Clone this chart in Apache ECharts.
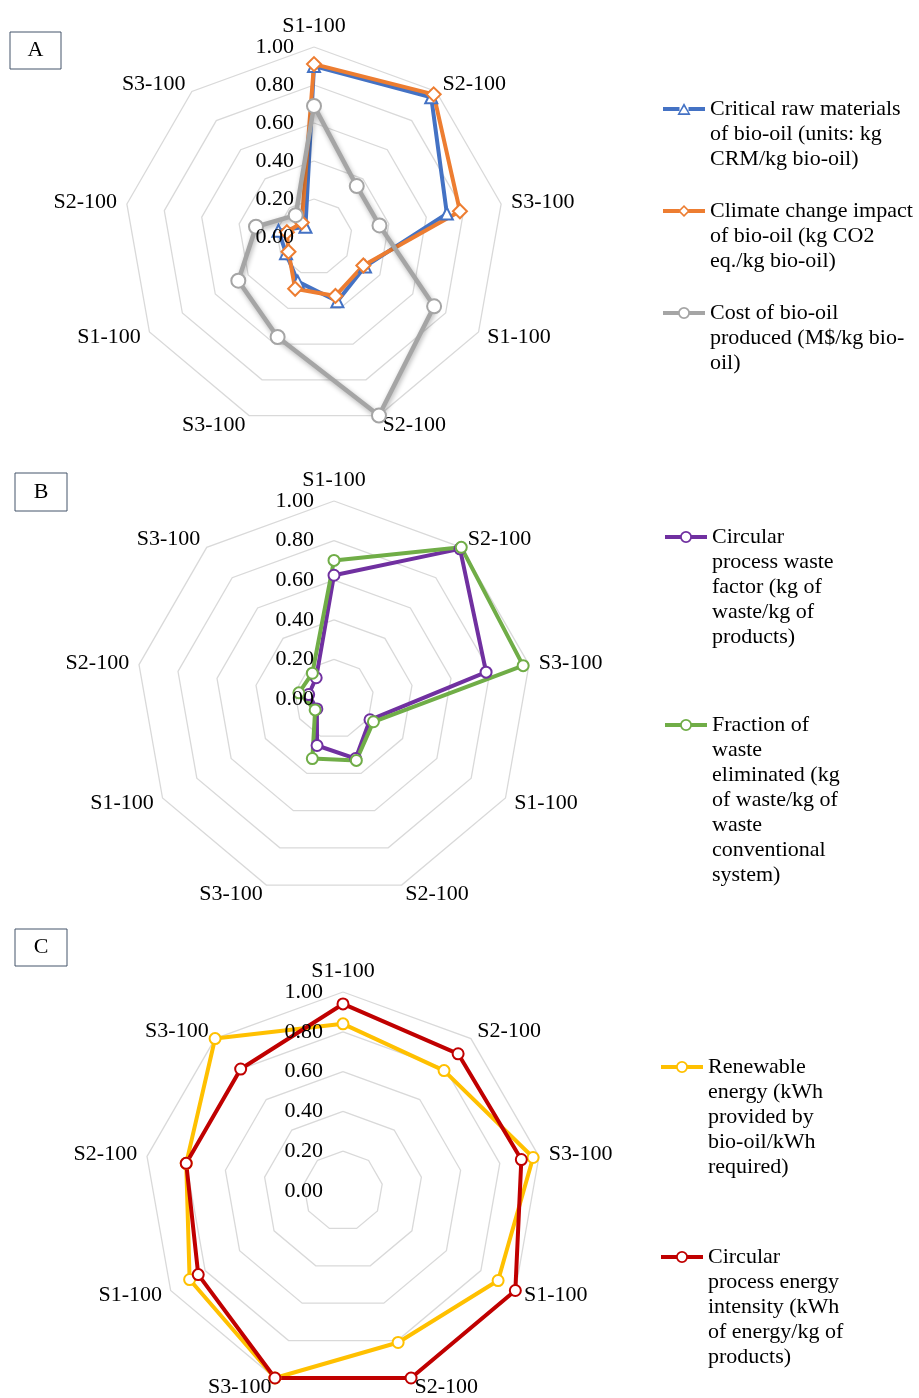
<!DOCTYPE html>
<html>
<head>
<meta charset="utf-8">
<script src="https://cdn.jsdelivr.net/npm/echarts@6/dist/echarts.min.js"></script>
<style>
  html, body { margin: 0; padding: 0; background: #ffffff; }
  #chart { width: 919px; height: 1398px; }
</style>
</head>
<body>
<div id="chart"></div>
<script>
// Spoke names, listed clockwise starting from the top spoke
const spokes = ['S1-100', 'S2-100', 'S3-100', 'S1-100', 'S2-100', 'S3-100', 'S1-100', 'S2-100', 'S3-100'];
const tickLabels = ['0.00', '0.20', '0.40', '0.60', '0.80', '1.00'];

// Panel A (normalised values, clockwise from the top spoke)
const crmBioOil      = [0.90, 0.96, 0.71, 0.31, 0.36, 0.25, 0.17, 0.19, 0.07];
const climateBioOil  = [0.91, 0.98, 0.78, 0.30, 0.33, 0.29, 0.155, 0.145, 0.10];
const costBioOil     = [0.69, 0.35, 0.35, 0.73, 1.00, 0.56, 0.46, 0.31, 0.15];

// Panel B
const wasteFactor     = [0.625, 0.99, 0.78, 0.21, 0.32, 0.25, 0.10, 0.13, 0.14];
const wasteEliminated = [0.70, 1.00, 0.97, 0.23, 0.33, 0.32, 0.11, 0.18, 0.17];

// Panel C
const renewableEnergy = [0.84, 0.79, 0.97, 0.90, 0.81, 1.00, 0.89, 0.80, 1.00];
const energyIntensity = [0.94, 0.90, 0.91, 1.00, 1.00, 1.00, 0.84, 0.80, 0.80];

// Series names and their wrapped legend text
const nameCrm = 'Critical raw materials of bio-oil (units: kg CRM/kg bio-oil)';
const nameClimate = 'Climate change impact of bio-oil (kg CO2 eq./kg bio-oil)';
const nameCost = 'Cost of bio-oil produced (M$/kg bio-oil)';
const nameWasteFactor = 'Circular process waste factor (kg of waste/kg of products)';
const nameWasteElim = 'Fraction of waste eliminated (kg of waste/kg of waste conventional system)';
const nameRenewable = 'Renewable energy (kWh provided by bio-oil/kWh required)';
const nameIntensity = 'Circular process energy intensity (kWh of energy/kg of products)';

const linesCrm = ['Critical raw materials', 'of bio-oil (units: kg', 'CRM/kg bio-oil)'];
const linesClimate = ['Climate change impact', 'of bio-oil (kg CO2', 'eq./kg bio-oil)'];
const linesCost = ['Cost of bio-oil', 'produced (M$/kg bio-', 'oil)'];
const linesWasteFactor = ['Circular', 'process waste', 'factor (kg of', 'waste/kg of', 'products)'];
const linesWasteElim = ['Fraction of', 'waste', 'eliminated (kg', 'of waste/kg of', 'waste', 'conventional', 'system)'];
const linesRenewable = ['Renewable', 'energy (kWh', 'provided by', 'bio-oil/kWh', 'required)'];
const linesIntensity = ['Circular', 'process energy', 'intensity (kWh', 'of energy/kg of', 'products)'];

const BLUE = '#4472C4', ORANGE = '#ED7D31', GREY = '#A5A5A5';
const PURPLE = '#7030A0', GREEN = '#70AD47';
const YELLOW = '#FFC000', RED = '#C00000', BROWN = '#843C0C';
const FONT = 'Liberation Serif';
const LINE_H = 25;

// ECharts lays radar spokes out counter-clockwise; reorder so the list reads clockwise
const cw = arr => [arr[0]].concat(arr.slice(1).reverse());

// Grid layer: rings and spoke names (drawn beneath the series)
function radarGrid(cx, cy, r) {
  return {
    center: [cx, cy],
    radius: r,
    startAngle: 90,
    shape: 'polygon',
    splitNumber: 5,
    nameGap: 10,
    axisName: { color: '#000', fontFamily: FONT, fontSize: 22 },
    indicator: cw(spokes).map(name => ({ name: name, min: 0, max: 1 })),
    axisLine: { show: false },
    axisTick: { show: false },
    axisLabel: { show: false },
    splitLine: { lineStyle: { color: '#d9d9d9', width: 1.3 } },
    splitArea: { show: false }
  };
}

// Label layer: value labels on the top spoke, drawn above the series
function radarLabels(cx, cy, r) {
  return {
    z: 10,
    center: [cx, cy],
    radius: r,
    startAngle: 90,
    shape: 'polygon',
    splitNumber: 5,
    axisName: { show: false },
    indicator: cw(spokes).map((name, i) => {
      const ind = { name: name, min: 0, max: 1 };
      if (i === 0) {
        ind.axisLabel = {
          show: true, margin: 20, color: '#000', fontFamily: FONT, fontSize: 22,
          formatter: (v, idx) => tickLabels[idx] !== undefined ? tickLabels[idx] : v.toFixed(2)
        };
      }
      return ind;
    }),
    axisLine: { show: false },
    axisTick: { show: false },
    axisLabel: { show: false },
    splitLine: { show: false },
    splitArea: { show: false }
  };
}

function radarSeries(radarIndex, name, values, color, symbol, size, extra) {
  const s = {
    type: 'radar',
    radarIndex: radarIndex,
    symbol: symbol,
    symbolSize: size,
    lineStyle: { color: color, width: 4 },
    itemStyle: { color: color, borderWidth: 1.8 },
    data: [{ name: name, value: cw(values) }]
  };
  return Object.assign(s, extra || {});
}

// Legend icons: a short line with a hollow marker in the middle (42 x 12 box)
const iconCircle = 'path://M0,4L15.5,4L15.5,8L0,8Z M26.5,4L42,4L42,8L26.5,8Z ' +
  'M27,6A6,6 0 1 1 15,6A6,6 0 1 1 27,6Z M25.2,6A4.2,4.2 0 1 0 16.8,6A4.2,4.2 0 1 0 25.2,6Z';
const iconTriangle = 'path://M0,4L16.5,4L16.5,8L0,8Z M25.5,4L42,4L42,8L25.5,8Z ' +
  'M21,0L27.6,12L14.4,12Z M21,3.6L16.9,10.3L25.1,10.3Z';
const iconDiamond = 'path://M0,4L16.5,4L16.5,8L0,8Z M25.5,4L42,4L42,8L25.5,8Z ' +
  'M21,0L27,6L21,12L15,6Z M21,2.3L17.3,6L21,9.7L24.7,6Z';

// One legend per entry; leading blank lines keep the marker level with the first text line
function legendItem(name, icon, lines, left, firstLineY) {
  const n = lines.length;
  return {
    left: left,
    top: firstLineY - (2 * n - 1) * LINE_H / 2,
    orient: 'vertical',
    padding: 0,
    itemWidth: 42,
    itemHeight: 12,
    selectedMode: false,
    itemStyle: { borderWidth: 0 },
    data: [{ name: name, icon: icon }],
    formatter: () => '\n'.repeat(n - 1) + lines.join('\n'),
    textStyle: { fontFamily: FONT, fontSize: 22, lineHeight: LINE_H, color: '#000' }
  };
}

function panelBox(x, y, w, h, letter) {
  return [
    { type: 'rect', shape: { x: x, y: y, width: w, height: h },
      style: { fill: '#fff', stroke: '#44546A', lineWidth: 1 } },
    { type: 'text', x: x + w / 2, y: y + h / 2,
      style: { text: letter, fontFamily: FONT, fontSize: 22, fill: '#000', align: 'center', verticalAlign: 'middle' } }
  ];
}

const chart = echarts.init(document.getElementById('chart'), null, { renderer: 'canvas' });
chart.setOption({
  backgroundColor: '#ffffff',
  animation: false,
  radar: [
    radarGrid(314, 237, 190),
    radarGrid(334, 699, 198),
    radarGrid(343, 1191, 199),
    radarLabels(314, 237, 190),
    radarLabels(334, 699, 198),
    radarLabels(343, 1191, 199)
  ],
  legend: [
    legendItem(nameCrm, iconTriangle, linesCrm, 663, 109),
    legendItem(nameClimate, iconDiamond, linesClimate, 663, 211),
    legendItem(nameCost, iconCircle, linesCost, 663, 313),
    legendItem(nameWasteFactor, iconCircle, linesWasteFactor, 665, 537),
    legendItem(nameWasteElim, iconCircle, linesWasteElim, 665, 725),
    legendItem(nameRenewable, iconCircle, linesRenewable, 661, 1067),
    legendItem(nameIntensity, iconCircle, linesIntensity, 661, 1257)
  ],
  series: [
    radarSeries(0, nameCrm, crmBioOil, BLUE, 'emptyTriangle', 12),
    radarSeries(0, nameClimate, climateBioOil, ORANGE, 'emptyDiamond', 14),
    radarSeries(0, nameCost, costBioOil, GREY, 'emptyCircle', 14, {
      lineStyle: { color: GREY, width: 4.5, shadowBlur: 5, shadowColor: 'rgba(0,0,0,0.3)', shadowOffsetX: 1, shadowOffsetY: 2 }
    }),
    radarSeries(1, nameWasteFactor, wasteFactor, PURPLE, 'emptyCircle', 11),
    radarSeries(1, nameWasteElim, wasteEliminated, GREEN, 'emptyCircle', 11),
    radarSeries(2, nameRenewable, renewableEnergy, YELLOW, 'emptyCircle', 11),
    radarSeries(2, nameIntensity, energyIntensity, RED, 'emptyCircle', 11, {
      itemStyle: { color: RED, borderColor: BROWN, borderWidth: 1.8 }
    })
  ],
  graphic: [].concat(
    panelBox(10, 32, 51, 37, 'A'),
    panelBox(15, 473, 52, 38, 'B'),
    panelBox(15, 929, 52, 37, 'C')
  )
});
</script>
</body>
</html>
